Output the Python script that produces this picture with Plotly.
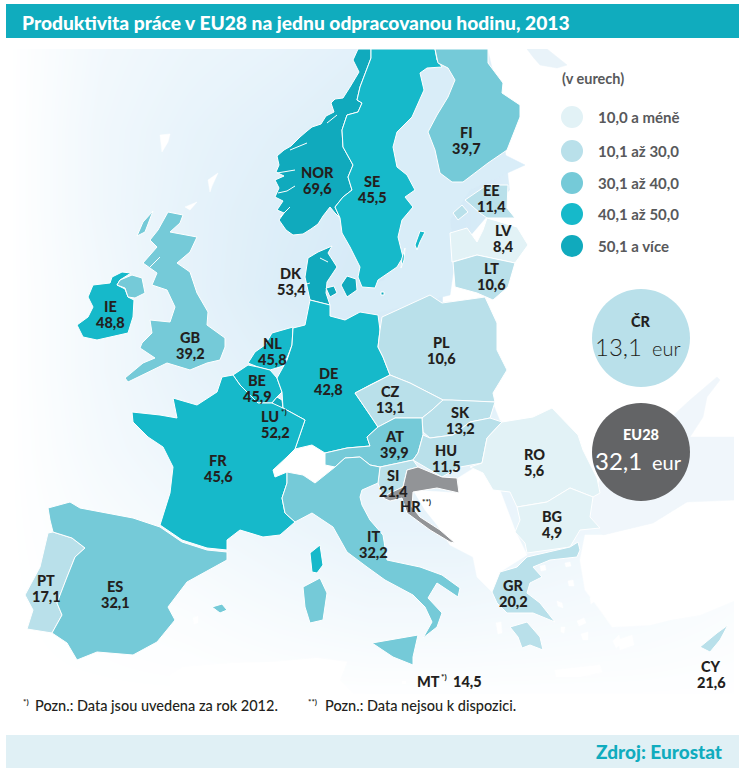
import plotly.graph_objects as go

# ---------- data ----------
CODES = ["NOR","SE","FI","EE","LV","LT","DK","IE","GB","NL","BE","LU","DE","FR","PL","CZ","SK","AT","HU","SI","RO","BG","IT","GR","PT","ES","MT","CY"]
VALUES = [69.6,45.5,39.7,11.4,8.4,10.6,53.4,48.8,39.2,45.8,45.9,52.2,42.8,45.6,10.6,13.1,13.2,39.9,11.5,21.4,5.6,4.9,32.2,20.2,17.1,32.1,14.5,21.6]
CLASS_LABELS = ["10,0 a méně","10,1 až 30,0","30,1 až 40,0","40,1 až 50,0","50,1 a více"]
CLASS_LIMITS = [10.0,30.0,40.0,50.0,1000]
CLASS_COLORS = ["#e2f2f6","#b9e0ea","#75cad8","#16b9ca","#10aabd"]

# map outlines (map units: reference pixels)
NOR = [(371,49),(358,49),(353,60),(359,72),(350,87),(343,98),(335,99),(331,103),(334,112),(326,116),(321,124),(312,127),(307,131),(300,137),(291,146),(284,150),(277,156),(279,165),(276,172),(284,176),(275,180),(279,188),(275,197),(283,201),(277,210),(284,213),(279,220),(286,230),(293,235),(303,234),(311,229),(318,224),(323,216),(330,207),(335,213),(340,218),(335,207),(343,197),(352,190),(348,177),(353,165),(343,147),(342,130),(347,115),(358,112),(362,103),(357,100),(360,87),(371,58)]
SE = [(371,49),(435,49),(437,60),(442,67),(427,68),(420,73),(424,90),(412,117),(397,132),(393,147),(397,167),(407,175),(415,190),(405,197),(413,207),(402,220),(398,237),(403,257),(397,267),(378,280),(375,288),(362,287),(358,277),(360,267),(350,247),(342,233),(340,218),(335,207),(343,197),(352,190),(348,177),(353,165),(343,147),(342,130),(347,115),(358,112),(362,103),(357,100),(360,87),(371,58)]
SE_GOTLAND = [(420,231),(425,232),(420,242),(417,250),(415,245)]
SE_OLAND = [(405,248),(404,260),(401,268),(402,258)]
FI = [(435,49),(488,49),(488,63),(503,83),(502,93),(520,105),(520,117),(507,150),(488,163),(463,182),(452,182),(440,173),(435,150),(428,132),(437,115),(448,97),(455,80),(448,68),(438,63)]
EE = [(465,200),(487,185),(508,185),(507,208),(515,218),(487,218),(480,213)]
EE_ISLE = [(453,213),(462,205),(468,212),(458,220)]
LV = [(450,233),(467,228),(477,242),(483,230),(487,218),(517,227),(528,245),(515,263),(477,255),(452,262)]
LT = [(453,262),(477,255),(515,263),(508,287),(493,300),(477,293),(455,287)]
DK = [(332,246),(318,252),(308,258),(305,277),(310,300),(330,305),(326,293),(327,282),(337,267),(328,253)]
DK_FUNEN = [(326,288),(334,286),(337,293),(330,297)]
DK_ZEALAND = [(341,285),(347,276),(356,279),(357,290),(347,297)]
DK_BORNHOLM = [(381,292),(384,292),(384,295),(381,295)]
IE = [(112,277),(122,272),(131,273),(120,280),(117,285),(125,289),(128,297),(134,300),(133,317),(128,333),(97,340),(83,337),(77,325),(88,317),(93,307),(88,297),(93,285),(110,283)]
GB = [(168,212),(183,215),(180,223),(170,232),(197,237),(190,252),(177,263),(190,272),(197,293),(208,312),(207,325),(225,338),(225,347),(220,360),(207,363),(190,370),(167,363),(153,370),(128,382),(125,378),(143,363),(155,358),(140,348),(142,343),(152,333),(150,320),(170,322),(175,307),(167,290),(152,285),(157,273),(143,263),(157,247),(150,240),(158,230)]
GB_NI = [(132,275),(142,278),(145,293),(135,298),(128,297),(125,288),(117,285),(120,280)]
GB_HEBRIDES = [(137,236),(143,222),(153,211),(148,224),(145,232)]
NL = [(272,333),(293,327),(292,345),(287,358),(283,366),(270,370),(258,367),(248,363),(255,352),(265,345)]
BE = [(233,375),(248,365),(258,367),(270,370),(277,378),(282,392),(277,397),(272,403),(258,403),(240,385)]
LU = [(277,397),(282,400),(283,408),(275,407),(272,403)]
DE = [(293,328),(305,325),(310,300),(330,305),(330,316),(345,320),(360,312),(378,315),(380,330),(378,347),(383,357),(390,375),(370,385),(355,393),(370,415),(378,427),(367,437),(370,446),(347,448),(325,453),(312,445),(295,449),(305,420),(283,408),(282,392),(277,378),(287,360),(292,345)]
FR = [(222,377),(233,375),(240,385),(258,403),(272,403),(283,408),(305,420),(295,449),(287,457),(273,470),(275,477),(287,472),(287,483),(282,498),(285,513),(295,522),(280,535),(263,537),(240,530),(227,540),(227,550),(207,548),(182,540),(160,525),(170,493),(173,467),(163,447),(148,437),(133,422),(132,412),(160,415),(177,418),(173,398),(197,405),(217,392)]
FR_CORSICA = [(310,553),(320,545),(323,565),(317,573),(312,572)]
PL = [(382,317),(430,295),(442,303),(485,297),(497,323),(497,350),(507,370),(493,393),(495,402),(452,400),(443,400),(410,383),(390,375),(383,357),(378,347),(380,330)]
CZ = [(355,393),(370,385),(390,375),(410,383),(443,400),(432,410),(422,418),(395,418),(378,427),(370,415)]
SK = [(422,418),(432,410),(443,400),(452,400),(495,402),(490,418),(470,422),(453,435),(430,438),(423,432)]
AT = [(325,453),(347,448),(370,446),(367,437),(378,427),(395,418),(422,418),(423,435),(418,453),(413,460),(380,467),(370,465),(360,457),(345,458),(335,467),(325,465)]
HU = [(423,435),(430,438),(453,435),(470,422),(490,418),(502,422),(487,438),(482,463),(460,467),(442,477),(425,467),(413,460),(418,453)]
SI = [(380,467),(413,460),(418,467),(407,470),(403,487),(390,493),(383,498),(378,483)]
RO = [(502,422),(533,417),(552,408),(578,435),(583,450),(597,478),(600,493),(593,497),(570,488),(547,502),(517,507),(510,492),(493,490),(483,473),(470,467),(482,463),(487,438)]
BG = [(517,507),(547,502),(570,488),(593,497),(590,517),(600,528),(580,530),(570,547),(527,553),(525,543),(515,532),(520,520)]
IT = [(287,483),(287,472),(303,475),(315,483),(325,475),(335,467),(345,458),(360,457),(370,465),(380,467),(378,483),(362,490),(360,497),(362,505),(370,520),(383,535),(387,560),(420,567),(442,575),(460,588),(458,597),(437,583),(428,598),(442,613),(437,627),(423,638),(432,622),(425,607),(413,595),(385,580),(367,567),(347,552),(333,527),(312,513),(295,522),(285,513),(282,498)]
IT_SICILY = [(372,643),(418,635),(413,657),(413,665),(393,657)]
IT_SARDINIA = [(303,587),(320,578),(327,593),(323,620),(310,623),(305,607)]
GR = [(527,557),(570,547),(578,542),(580,550),(577,557),(550,560),(533,567),(542,577),(530,583),(527,593),(540,603),(555,622),(533,613),(507,613),(497,603),(492,592),(500,572),(517,567)]
GR_PELOPONNESE = [(510,627),(527,622),(540,637),(543,650),(530,645),(522,648),(518,637)]
PT = [(48,533),(53,532),(72,538),(85,548),(75,557),(67,577),(57,603),(62,615),(52,633),(27,629),(33,610),(25,595),(40,567)]
ES = [(48,508),(70,502),(80,508),(133,518),(160,527),(182,542),(207,550),(227,552),(227,560),(187,582),(168,607),(175,620),(157,642),(133,655),(97,652),(77,660),(67,643),(52,633),(62,615),(57,603),(67,577),(75,557),(85,548),(72,538),(53,532),(50,520)]
ES_MALLORCA = [(212,607),(222,604),(227,610),(220,613)]
CY = [(700,647),(717,633),(728,625),(720,640),(710,652)]
HR = [(418,467),(442,477),(457,478),(459,493),(437,488),(413,492),(412,507),(420,517),(440,530),(455,543),(450,542),(430,530),(407,513),(402,498),(390,501),(383,498),(390,493),(403,487),(407,470)]

COUNTRY_SHAPES = {"NOR":[NOR],"SE":[SE,SE_GOTLAND,SE_OLAND],"FI":[FI],"EE":[EE,EE_ISLE],"LV":[LV],"LT":[LT],"DK":[DK,DK_FUNEN,DK_ZEALAND,DK_BORNHOLM],"IE":[IE],"GB":[GB,GB_NI,GB_HEBRIDES],"NL":[NL],"BE":[BE],"LU":[LU],"DE":[DE],"FR":[FR,FR_CORSICA],"PL":[PL],"CZ":[CZ],"SK":[SK],"AT":[AT],"HU":[HU],"SI":[SI],"RO":[RO],"BG":[BG],"IT":[IT,IT_SICILY,IT_SARDINIA],"GR":[GR,GR_PELOPONNESE],"PT":[PT],"ES":[ES,ES_MALLORCA],"CY":[CY]}

# white cuts into the coast
FJORDS = [[(277,173),(287,171),(295,170)],[(278,193),(287,191),(295,186)],[(280,217),(285,212),(290,207)],[(290,150),(298,147),(307,143)],[(327,123),(331,120),(337,115)],[(150,267),(155,262),(160,257)],[(303,285),(310,283)],[(320,258),(328,262)]]

# land and sea that carry no data
LAND_EAST = [(488,49),(736,49),(736,505),(600,505),(590,480),(500,420),(490,395),(480,298),(440,293),(450,260),(510,190),(500,100)]
LAND_TURKEY = [(585,535),(603,535),(653,523),(687,502),(736,500),(736,600),(700,615),(670,620),(650,625),(612,627),(600,610),(585,590),(580,560)]
LAND_BALKANS = [(458,478),(482,463),(500,490),(515,530),(527,555),(500,572),(492,592),(477,577),(473,557),(450,545),(437,525),(425,510),(413,490),(459,493)]
LAND_SWISS = [(295,450),(312,445),(325,453),(325,465),(335,467),(325,475),(315,483),(303,475),(287,472),(275,477),(273,470),(287,457)]
LAND_AFRICA = [(170,675),(183,667),(233,663),(273,662),(317,658),(347,662),(340,680),(353,694),(170,694)]
LAND_KALININGRAD = [(443,292),(477,290),(477,300),(443,302)]
LAND_CRETE = [(555,670),(575,668),(600,665),(602,672),(580,677),(556,677)]
LAND_FAROE = [(160,135),(170,134),(168,142),(162,152)]
LAND_SHETLAND = [(208,180),(218,173),(212,186),(210,192)]
LAND_ORKNEY = [(185,207),(197,202),(190,210)]
LAND_RHODES = [(618,640),(632,635),(634,645),(620,650)]
LAND_IBIZA = [(193,618),(198,616),(198,623),(194,624)]
LAND_MALTA = [(402,681),(406,681),(406,684),(402,684)]
ISLE_1 = [(540,566),(545,565),(546,570),(541,571)]
ISLE_2 = [(565,563),(570,562),(571,566),(566,567)]
ISLE_3 = [(568,581),(573,580),(574,586),(569,586)]
ISLE_4 = [(590,598),(596,594),(597,599),(591,604)]
ISLE_5 = [(557,601),(562,603),(563,608),(558,606)]
ISLE_6 = [(577,621),(584,618),(586,623),(579,626)]
ISLE_7 = [(581,634),(588,632),(588,640),(583,640)]
ISLE_8 = [(561,627),(565,627),(564,633),(561,632)]
ISLE_9 = [(496,623),(501,622),(502,633),(498,634)]
ISLE_10 = [(613,641),(619,635),(621,644),(616,648)]
WHITE_LANDS = [LAND_EAST,LAND_TURKEY,LAND_BALKANS,LAND_SWISS,LAND_AFRICA,LAND_KALININGRAD,LAND_CRETE,LAND_FAROE,LAND_SHETLAND,LAND_ORKNEY,LAND_RHODES,LAND_IBIZA,LAND_MALTA,ISLE_1,ISLE_2,ISLE_3,ISLE_4,ISLE_5,ISLE_6,ISLE_7,ISLE_8,ISLE_9,ISLE_10]
SEA_BALTIC = [(450,66),(420,72),(395,135),(385,280),(340,295),(320,310),(380,312),(430,300),(450,295),(455,260),(450,220),(470,190),(525,165),(505,155),(460,180),(440,170),(430,130),(458,80)]
SEA_BLACK = [(600,480),(620,450),(660,430),(677,412),(690,400),(717,377),(720,380),(707,397),(703,417),(690,437),(736,437),(736,500),(687,502),(653,523),(603,535),(592,518),(593,497)]
SEA_WHITE = [(527,49),(547,49),(567,65),(557,68),(540,65),(533,57)]

# tint of the open sea, sampled on a coarse grid
SEA_X = [9,100,190,280,370,460,550,640,733]
SEA_Y = [49,130,210,290,370,450,530,610,694]
SEA_TINT = [
 [0,.30,.45,.55,.70,.80,.60,.40,.20],
 [0,.35,.55,.70,.85,.95,.70,.40,.20],
 [0,.35,.60,.80,.95,1.0,.80,.40,.20],
 [0,.30,.60,.85,1.0,1.0,.80,.40,.20],
 [0,.30,.55,.70,.80,.80,.60,.40,.20],
 [0,.25,.45,.55,.65,.60,.50,.40,.30],
 [0,.15,.28,.42,.55,.55,.45,.35,.25],
 [0,.05,.12,.22,.30,.30,.25,.20,.12],
 [0,0,0,.02,.03,.03,.03,.03,.02]]

# label anchors
LABEL_X = {"NOR":317,"SE":372,"FI":466,"EE":491,"LV":503,"LT":491,"DK":291,"IE":110,"GB":190,"NL":272,"BE":257,"LU":270,"DE":328,"FR":218,"PL":441,"CZ":390,"SK":460,"AT":394,"HU":446,"SI":393,"RO":534,"BG":552,"IT":373,"GR":513,"PT":46,"ES":115,"CY":711}
LABEL_Y = {"NOR":172,"SE":181,"FI":132,"EE":190,"LV":230,"LT":268,"DK":273,"IE":306,"GB":337,"NL":343,"BE":380,"LU":416,"DE":373,"FR":460,"PL":342,"CZ":391,"SK":412,"AT":436,"HU":450,"SI":475,"RO":454,"BG":516,"IT":536,"GR":585,"PT":580,"ES":586,"CY":666}
VALUE_SHIFT = {"LU":5}

TITLE = "Produktivita práce v EU28 na jednu odpracovanou hodinu, 2013"
NOTE_1 = "Pozn.: Data jsou uvedena za rok 2012."
NOTE_2 = "Pozn.: Data nejsou k dispozici."
SOURCE = "Zdroj: Eurostat"
DARK = "#231f20"; GREY = "#58595b"; HEAD = "#10acbe"; HR_GREY = "#929497"
FONT = "Lato"

def cls(v):
    for lim, c in zip(CLASS_LIMITS, CLASS_COLORS):
        if v <= lim:
            return c

def poly(points, color, line="white", width=1.0):
    xs = [p[0] for p in points] + [points[0][0]]
    ys = [p[1] for p in points] + [points[0][1]]
    return go.Scatter(x=xs, y=ys, mode="lines", fill="toself", fillcolor=color,
                      line=dict(color=line, width=width), hoverinfo="skip", showlegend=False)

fig = go.Figure()
fig.add_trace(go.Heatmap(x=SEA_X, y=SEA_Y, z=SEA_TINT, zsmooth="best", showscale=False, zmin=0, zmax=1,
                         colorscale=[[0,"#ffffff"],[1,"#d5eaf7"]], hoverinfo="skip"))
for land in WHITE_LANDS:
    fig.add_trace(poly(land, "#ffffff", line="#ffffff", width=0.5))
fig.add_trace(poly(SEA_BALTIC, "#d9edf8", line="#d9edf8", width=0.5))
fig.add_trace(poly(SEA_BLACK, "#f0f6fb", line="#f0f6fb", width=0.5))
fig.add_trace(poly(SEA_WHITE, "#e9f3f9", line="#e9f3f9", width=0.5))

value_of = dict(zip(CODES, VALUES))
for code, shapes in COUNTRY_SHAPES.items():
    for s in shapes:
        fig.add_trace(poly(s, cls(value_of[code])))
fig.add_trace(poly(HR, HR_GREY))
for cut in FJORDS:
    fig.add_trace(go.Scatter(x=[p[0] for p in cut], y=[p[1] for p in cut], mode="lines",
                             line=dict(color="white", width=1), hoverinfo="skip", showlegend=False))

# legend discs and the two big discs
LEG_Y = [117,151,183,214,246]
fig.add_trace(go.Scatter(x=[572]*5, y=LEG_Y, mode="markers", hoverinfo="skip", showlegend=False,
                         marker=dict(size=22, color=CLASS_COLORS)))
CR_VALUE, EU_VALUE = value_of["CZ"], value_of["ES"]
fig.add_trace(go.Scatter(x=[641,641], y=[338,452], mode="markers", hoverinfo="skip", showlegend=False,
                         marker=dict(size=98, color=[CLASS_COLORS[1], "#636466"])))

def txt(x, y, s, size, color=DARK, weight=900, anchor="center"):
    fig.add_annotation(x=x, y=y, xref="x", yref="y", text=s, showarrow=False, xanchor=anchor, yanchor="middle",
                       font=dict(family=FONT, size=size, color=color, weight=weight))

def comma(v):
    return f"{v:.1f}".replace(".", ",")

LS = 14.5
for code in CODES:
    if code == "MT":
        continue
    txt(LABEL_X[code], LABEL_Y[code], code, LS)
    txt(LABEL_X[code] + VALUE_SHIFT.get(code, 0), LABEL_Y[code] + 16, comma(value_of[code]), LS)
txt(279, 412, "*)", 8, anchor="left")
txt(415, 681, "MT", LS, anchor="left")
txt(439, 677, "*)", 8, anchor="left")
txt(451, 681, comma(value_of["MT"]), LS, anchor="left")
txt(398, 506, "HR", LS, anchor="left")
txt(420, 502, "**)", 8, anchor="left")

txt(560, 78, "(v eurech)", 14.5, GREY, 700, "left")
for y, s in zip(LEG_Y, CLASS_LABELS):
    txt(596, y, s, 15, GREY, 700, "left")

txt(641, 321, "ČR", LS)
txt(644, 346, comma(CR_VALUE), 24, DARK, 300, "right")
txt(650, 348, "eur", 20, DARK, 300, "left")
txt(641, 434, "EU28", 14.5, "#ffffff")
txt(644, 460, comma(EU_VALUE), 24, "#ffffff", 400, "right")
txt(650, 462, "eur", 20, "#ffffff", 400, "left")

txt(20, 22, TITLE, 19.2, "#ffffff", 900, "left")
txt(21, 702, "*)", 8, DARK, 700, "left")
txt(33, 705, NOTE_1, 14.5, DARK, 500, "left")
txt(306, 702, "**)", 8, DARK, 700, "left")
txt(323, 705, NOTE_2, 14.5, DARK, 500, "left")
txt(725, 751, SOURCE, 19, HEAD, 900, "right")

rects = [(0,0,739,49,"#ffffff"),(0,694,739,771,"#ffffff"),(0,0,9,771,"#ffffff"),(734,0,739,771,"#ffffff"),
         (6,4,739,38,HEAD),(6,735,739,768,"#e0f0f5")]
for x0,y0,x1,y1,c in rects:
    fig.add_shape(type="rect", x0=x0, y0=y0, x1=x1, y1=y1, fillcolor=c, line_width=0, layer="above")

fig.update_layout(width=739, height=771, margin=dict(l=0,r=0,t=0,b=0), paper_bgcolor="white", plot_bgcolor="white",
                  xaxis=dict(visible=False, range=[0,739], fixedrange=True),
                  yaxis=dict(visible=False, range=[771,0], fixedrange=True), showlegend=False)
fig.write_html("out.html", config=dict(displayModeBar=False),
               post_script="document.body.style.margin='0';document.documentElement.style.overflow='hidden';")
